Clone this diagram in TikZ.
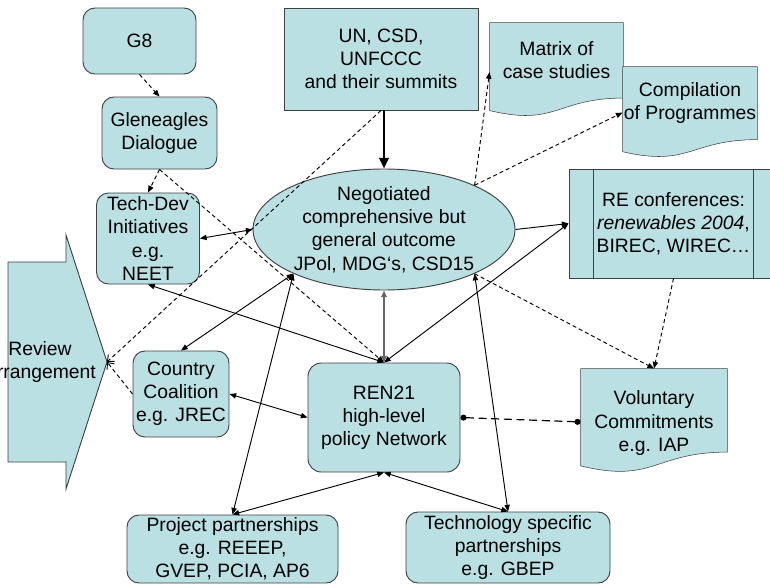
\documentclass[tikz,border=0pt]{standalone}
\usepackage{fontspec}
\setmainfont{Liberation Sans}
\usetikzlibrary{arrows.meta,calc,shapes.geometric,backgrounds}

\definecolor{boxfill}{RGB}{187,224,227}

% 文档形状（波浪底边）
\newcommand{\docoutline}[1]{%
  \filldraw[docline] (#1.north west) -- (#1.north east) -- (#1.south east)
    .. controls (#1.south) and ($(#1.north)!1.38!(#1.south)$)
    .. ($(#1.north west)!1.165!(#1.south west)$) -- cycle;
}

\begin{document}
\begin{tikzpicture}[x=0.75pt, y=-0.75pt, line width=0.7pt,
    font=\fontsize{14.5}{17.4}\selectfont,
    >={Triangle[length=5pt,width=4pt]},
    box/.style={draw=black!75, fill=boxfill, align=center, inner sep=0pt},
    roundbox/.style={box, rounded corners=9pt},
    docbox/.style={align=center, inner sep=0pt},
    docline/.style={draw=black!75, fill=boxfill},
    weak/.style={dash pattern=on 3pt off 2.2pt},
    longdash/.style={dash pattern=on 6pt off 3.5pt, line width=0.9pt}]
  \clip (0,0) rectangle (770,585);

  % 左侧
  \node[roundbox, minimum width=84.75pt, minimum height=49.5pt] (g8) at (139.5,41) {G8};
  \node[roundbox, minimum width=86.25pt, minimum height=54pt] (glen) at (159.5,133) {Gleneagles\\Dialogue};
  \node[roundbox, minimum width=77.25pt, minimum height=68.25pt] (tech) at (148,238.5) {Tech-Dev\\Initiatives\\e.g.\\NEET};
  \node[roundbox, minimum width=72pt, minimum height=64.5pt] (coal) at (181,394) {Country\\Coalition\\e.g. JREC};

  % Review 箭头
  \filldraw[docline] (8,262) -- (66,262) -- (66,235) -- (107,362) -- (66,489) -- (66,462) -- (8,462) -- cycle;
  \coordinate (revtip) at (107,362);
  \node[align=center] (review) at (40,362) {Review\\Arrangement};

  % 中间
  \node[box, minimum width=145.5pt, minimum height=76.5pt] (un) at (381,59) {UN, CSD,\\UNFCCC\\and their summits};
  \node[box, ellipse, minimum width=196.5pt, minimum height=90.75pt, inner ysep=-12pt] (outcome) at (384,229.5)
    {Negotiated\\comprehensive but\\general outcome\\JPol, MDG‘s, CSD15};
  \node[roundbox, rounded corners=10pt, minimum width=114pt, minimum height=81.75pt] (ren) at (384,417.5)
    {REN21\\high-level\\policy Network};

  % 下方
  \node[roundbox, minimum width=158.25pt, minimum height=51pt] (proj) at (232.5,549)
    {Project partnerships\\e.g. REEEP,\\GVEP, PCIA, AP6};
  \node[roundbox, minimum width=153pt, minimum height=53.25pt] (tspec) at (508,547.5)
    {Technology specific\\partnerships\\e.g. GBEP};

  % 右侧
  \node[docbox, minimum width=99.75pt, minimum height=55.95pt] (matrix) at (556.5,60.3) {Matrix of\\case studies};
  \node[docbox, minimum width=100.5pt, minimum height=54.1pt] (comp) at (690,103.1) {Compilation\\of Programmes};
  \node[box, minimum width=156.75pt, minimum height=81.75pt] (re) at (673.5,223.5)
    {RE conferences:\\\textit{renewables 2004},\\BIREC, WIREC…};
  \draw[draw=black!75] ([xshift=18.75pt]re.north west) -- ([xshift=18.75pt]re.south west);
  \draw[draw=black!75] ([xshift=-18.75pt]re.north east) -- ([xshift=-18.75pt]re.south east);
  \node[docbox, minimum width=109.5pt, minimum height=61.95pt] (vol) at (654,410.3) {};
  \node[align=center] (voltext) at (654,423) {Voluntary\\Commitments\\e.g. IAP};

  \begin{scope}[on background layer]
    \docoutline{matrix}
    \docoutline{comp}
    \docoutline{vol}
  \end{scope}

  % 虚线
  \draw[weak, ->] (g8.south) -- (glen.north);
  \draw[weak, ->] (glen.south) -- (tech.north);
  \draw[weak, ->] (glen.south) -- (ren.north);
  \draw[weak, -{Straight Barb[length=4pt,width=7pt]}] (un.south) -- (revtip);
  \draw[weak, -{Straight Barb[length=4pt,width=7pt]}] (coal.west) -- (revtip);
  \draw[weak, ->] (outcome.26) -- (matrix.190);
  \draw[weak, ->] (outcome.26) -- (comp.188);
  \draw[weak, ->] (outcome.-26) -- (vol.north);
  \draw[weak, ->] (re.south) -- (vol.north);
  \draw[longdash, {Circle[length=4.5pt]}-{Circle[length=4.5pt]}] (ren.east) -- (vol.189);

  % 实线
  \draw[line width=1.9pt, -{Triangle[length=8pt,width=7pt]}] (un.south -| outcome.north) -- (outcome.north);
  \draw[<->] (outcome.west) -- (tech.east);
  \draw[->] (outcome.east) -- (re.west);
  \draw[<->] (ren.north) -- (re.west);
  \draw[<->] (ren.north) -- (tech.south);
  \draw[<->, black!60, line width=1.3pt] (ren.north) -- (outcome.south);
  \draw[<->] (outcome.206) -- (coal.north);
  \draw[<->] (outcome.206) -- (proj.north);
  \draw[<->] (outcome.-26) -- (tspec.north);
  \draw[<->] (ren.south) -- (proj.north);
  \draw[<->] (ren.south) -- (tspec.north);
  \draw[<->] (ren.west) -- (coal.east);
\end{tikzpicture}
\end{document}
